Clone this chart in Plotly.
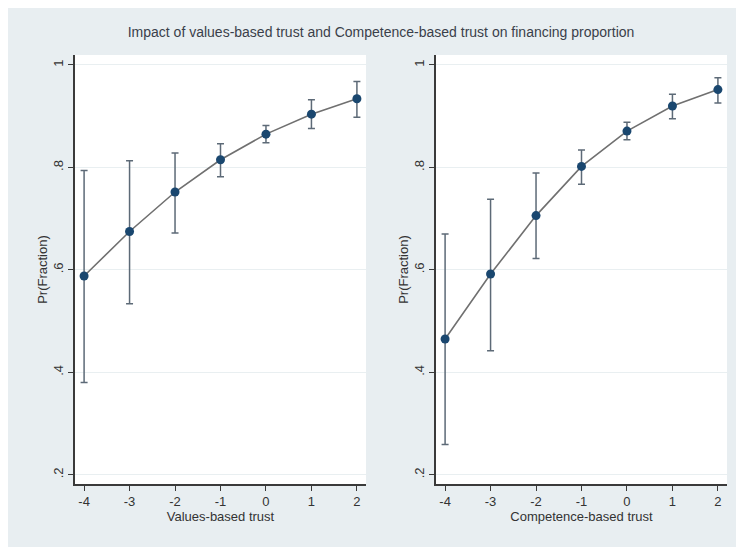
import plotly.graph_objects as go

x_vals = [-4, -3, -2, -1, 0, 1, 2]

values_est = [0.588, 0.675, 0.752, 0.815, 0.865, 0.904, 0.934]
values_hi = [0.794, 0.813, 0.828, 0.846, 0.882, 0.932, 0.968]
values_lo = [0.380, 0.534, 0.672, 0.782, 0.848, 0.876, 0.898]

comp_est = [0.465, 0.592, 0.706, 0.802, 0.871, 0.920, 0.952]
comp_hi = [0.670, 0.738, 0.789, 0.834, 0.888, 0.943, 0.975]
comp_lo = [0.259, 0.442, 0.622, 0.767, 0.854, 0.895, 0.926]

y_ticks = [0.2, 0.4, 0.6, 0.8, 1.0]
y_ticktext = [".2", ".4", ".6", ".8", "1"]
x_ticks = [-4, -3, -2, -1, 0, 1, 2]
x_ticktext = ["-4", "-3", "-2", "-1", "0", "1", "2"]

title_text = "Impact of values-based trust and Competence-based trust on financing proportion"
x_titles = ["Values-based trust", "Competence-based trust"]
y_title = "Pr(Fraction)"

W, H = 744, 547
OX, OY = 8, 8  # page offset of the figure
FONT = "Liberation Sans, Arial, sans-serif"
BG = "#e8eef1"
NAVY = "#1a476f"
LINE = "#707070"
CI = "#5d6a77"
AX = "#3a3a3a"
TXT = "#333333"

fig = go.Figure()

def add_panel(est, hi, lo, xa, ya):
    fig.add_trace(go.Scatter(
        x=x_vals, y=est, mode="lines+markers",
        line=dict(color=LINE, width=1.6),
        marker=dict(color=NAVY, size=9),
        error_y=dict(type="data", symmetric=False,
                     array=[h - e for h, e in zip(hi, est)],
                     arrayminus=[e - l for e, l in zip(est, lo)],
                     color=CI, thickness=1.5, width=3.5),
        xaxis=xa, yaxis=ya, showlegend=False, hoverinfo="x+y"))

add_panel(values_est, values_hi, values_lo, "x", "y")
add_panel(comp_est, comp_hi, comp_lo, "x2", "y2")

ydom = [1 - (484 - OY) / H, 1 - (55 - OY) / H]
xdoms = [[(75 - OX) / W, (366 - OX) / W], [(436 - OX) / W, (727 - OX) / W]]

axis_common = dict(showline=True, linecolor=AX, linewidth=1.5, ticks="outside",
                   ticklen=5, tickwidth=1.2, tickcolor=AX, zeroline=False,
                   tickfont=dict(family=FONT, size=13, color=TXT))

for i, (xa, ya) in enumerate([("xaxis", "yaxis"), ("xaxis2", "yaxis2")]):
    anchor_y = "y" if i == 0 else "y2"
    anchor_x = "x" if i == 0 else "x2"
    fig.update_layout(**{
        xa: dict(domain=xdoms[i], anchor=anchor_y, range=[-4.2, 2.2],
                 tickvals=x_ticks, ticktext=x_ticktext, showgrid=False,
                 title=dict(text=x_titles[i], standoff=0,
                            font=dict(family=FONT, size=13, color=TXT)),
                 **axis_common),
        ya: dict(domain=ydom, anchor=anchor_x, range=[0.182, 1.0195],
                 tickvals=y_ticks, ticktext=y_ticktext, tickangle=-90,
                 ticklabelstandoff=0,
                 showgrid=True, gridcolor="#e9eff1", gridwidth=1,
                 title=dict(text=y_title, standoff=0,
                            font=dict(family=FONT, size=13, color=TXT)),
                 **axis_common),
    })

fig.update_layout(
    width=W, height=H, autosize=False,
    margin=dict(l=0, r=0, t=0, b=0),
    paper_bgcolor=BG, plot_bgcolor="white",
    title=dict(text=title_text, x=(381 - OX) / W, xanchor="center",
               y=1 - (32 - OY) / H, yanchor="middle",
               font=dict(family=FONT, size=14, color="#3a3f4a")),
)

fig.write_html("out.html")
